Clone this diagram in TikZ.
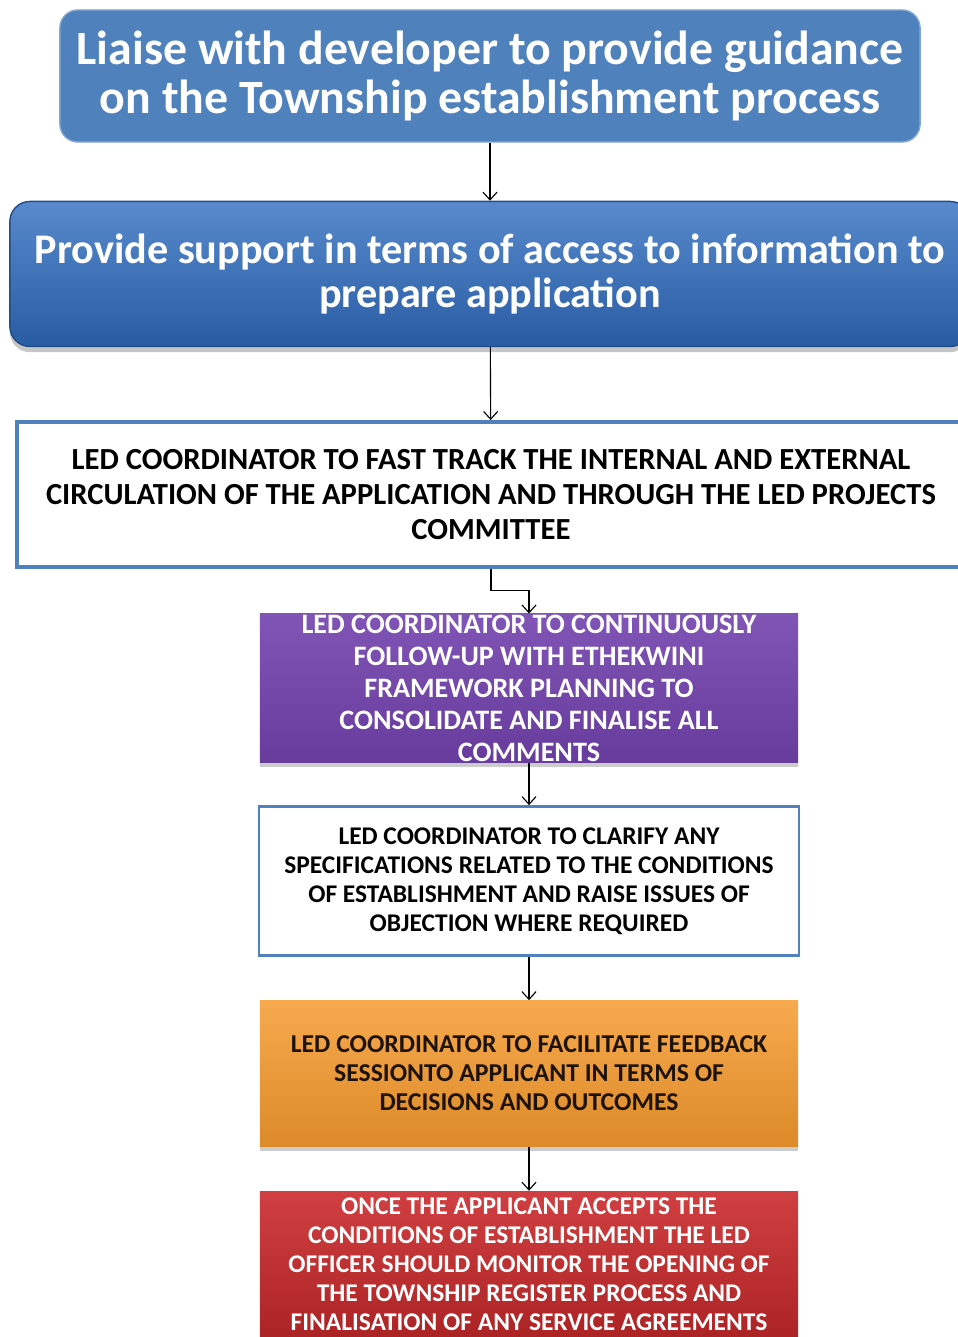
\documentclass[tikz,border=0pt]{standalone}
\usepackage{fontspec}
\setmainfont{Carlito}
\usetikzlibrary{positioning,arrows.meta,shadows}

\definecolor{steelblue}{HTML}{4F81BD}
\definecolor{deepblue}{HTML}{2F6CC0}
\definecolor{violet}{HTML}{7242AE}
\definecolor{amber}{HTML}{F59A2E}
\definecolor{crimson}{HTML}{CB2A2C}

\begin{document}
\begin{tikzpicture}[x=0.025cm, y=-0.025cm, >={Straight Barb[length=5.5pt,width=10pt]},
    box/.style={rectangle, inner sep=0pt, align=center, font=\bfseries},
    headbox/.style={box, rounded corners=0.45cm, fill=steelblue, draw=steelblue!70!white, line width=1pt,
        text=white, minimum width=21.5cm, minimum height=3.3cm, font=\bfseries\fontsize{34}{35}\selectfont},
    supportbox/.style={box, rounded corners=0.5cm, top color=deepblue!80!white, bottom color=deepblue!85!black,
        draw=deepblue!70!black, line width=1pt, text=white, minimum width=24cm, minimum height=3.625cm,
        drop shadow={opacity=0.45, shadow xshift=0pt, shadow yshift=-4pt},
        font=\bfseries\fontsize{30}{31}\selectfont},
    framebox/.style={box, draw=steelblue, fill=white, text=black},
    colourbox/.style={box, minimum width=13.45cm,
        drop shadow={opacity=0.4, shadow xshift=0pt, shadow yshift=-3pt}},
    flow/.style={->, line width=0.8pt},
    node distance=1cm]

\useasboundingbox (0,0) rectangle (958,1337);
\clip (0,0) rectangle (958,1337);

\node[headbox] (liaise) at (490,76) {Liaise with developer to provide guidance\\on the Township establishment process};
\node[supportbox, below=1.45cm of liaise] (support) {Provide support in terms of access to information to\\prepare application};
\node[framebox, line width=2.6pt, minimum width=23.7cm, minimum height=3.625cm,
    font=\bfseries\fontsize{21.8}{25}\selectfont, below=1.82cm of support, xshift=0.025cm] (track)
    {LED COORDINATOR TO FAST TRACK THE INTERNAL AND EXTERNAL\\CIRCULATION OF THE APPLICATION AND THROUGH THE LED PROJECTS\\COMMITTEE};
\node[colourbox, top color=violet!90!white, bottom color=violet!90!black, text=white, minimum height=3.725cm,
    font=\bfseries\fontsize{20}{22.8}\selectfont, below=1.12cm of track, xshift=0.95cm] (follow)
    {LED COORDINATOR TO CONTINUOUSLY\\FOLLOW-UP WITH ETHEKWINI\\FRAMEWORK PLANNING TO\\CONSOLIDATE AND FINALISE ALL\\COMMENTS};
\node[framebox, line width=2pt, minimum width=13.5cm, minimum height=3.725cm,
    font=\bfseries\fontsize{18.1}{20.6}\selectfont, below=1.05cm of follow] (clarify)
    {LED COORDINATOR TO CLARIFY ANY\\SPECIFICATIONS RELATED TO THE CONDITIONS\\OF ESTABLISHMENT AND RAISE ISSUES OF\\OBJECTION WHERE REQUIRED};
\node[colourbox, top color=amber!85!white, bottom color=amber!90!black, text=black!85!brown, minimum height=3.65cm,
    font=\bfseries\fontsize{18.3}{20.6}\selectfont, below=1.08cm of clarify] (feedback)
    {LED COORDINATOR TO FACILITATE FEEDBACK\\SESSIONTO APPLICANT IN TERMS OF\\DECISIONS AND OUTCOMES};
\node[colourbox, top color=crimson!90!white, bottom color=crimson!85!black, text=white, minimum height=3.65cm,
    font=\bfseries\fontsize{18.1}{20.6}\selectfont, below=1.1cm of feedback] (monitor)
    {ONCE THE APPLICANT ACCEPTS THE\\CONDITIONS OF ESTABLISHMENT THE LED\\OFFICER SHOULD MONITOR THE OPENING OF\\THE TOWNSHIP REGISTER PROCESS AND\\FINALISATION OF ANY SERVICE AGREEMENTS};

\draw[flow] (liaise) -- (support);
\draw[flow] (support) -- (track);
\draw[flow] (track.south) -- ++(0,22) -| (follow.north);
\draw[flow] (follow) -- (clarify);
\draw[flow] (clarify) -- (feedback);
\draw[flow] (feedback) -- (monitor);

\end{tikzpicture}
\end{document}
